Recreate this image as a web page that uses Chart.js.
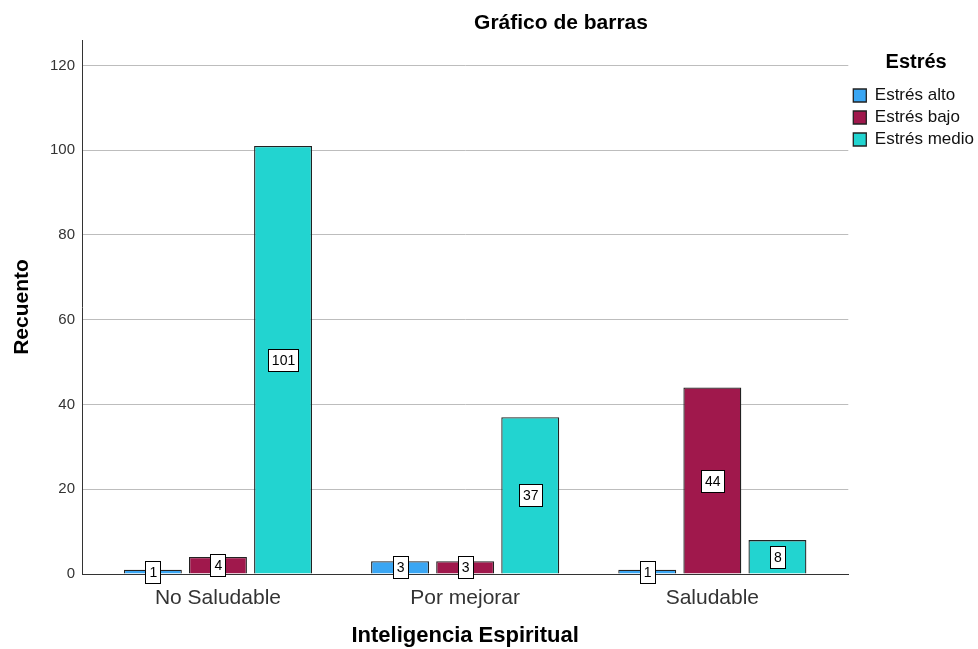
<!DOCTYPE html>
<html>
<head>
<meta charset="utf-8">
<script src="https://cdn.jsdelivr.net/npm/chart.js@4.4.0/dist/chart.umd.min.js"></script>
<style>
  body { margin: 0; background: #fff; }
</style>
</head>
<body>
<canvas id="grafico" width="978" height="649"></canvas>
<script>
const categorias = ['No Saludable', 'Por mejorar', 'Saludable'];
const estresAlto = [1, 3, 1];
const estresBajo = [4, 3, 44];
const estresMedio = [101, 37, 8];
const ticksY = [0, 20, 40, 60, 80, 100, 120];

const fuente = '"Liberation Sans", Arial, sans-serif';

// cajitas blancas con el recuento en medio de cada barra
const etiquetas = {
  id: 'etiquetas',
  afterDatasetsDraw(chart) {
    const ctx = chart.ctx;
    ctx.save();
    ctx.font = '14px ' + fuente;
    ctx.textAlign = 'center';
    ctx.textBaseline = 'middle';
    chart.data.datasets.forEach((ds, di) => {
      chart.getDatasetMeta(di).data.forEach((bar, i) => {
        const txt = String(ds.data[i].y);
        const w = Math.round(ctx.measureText(txt).width + 7);
        const h = 22;
        const x = Math.round(bar.x - w / 2);
        const y = Math.round((bar.y + bar.base) / 2 - h / 2);
        ctx.fillStyle = '#fff';
        ctx.fillRect(x, y, w, h);
        ctx.strokeStyle = '#000';
        ctx.lineWidth = 1;
        ctx.strokeRect(x + 0.5, y + 0.5, w, h);
        ctx.fillStyle = '#000';
        ctx.fillText(txt, bar.x + 0.5, y + h / 2 + 1);
      });
    });
    ctx.restore();
  }
};

const titulo = {
  id: 'titulo',
  afterDraw(chart) {
    const ctx = chart.ctx;
    ctx.save();
    ctx.font = 'bold 21px ' + fuente;
    ctx.fillStyle = '#000';
    ctx.textAlign = 'center';
    ctx.textBaseline = 'middle';
    ctx.fillText('Gráfico de barras', 561, 23);
    ctx.restore();
  }
};

const serie = valores => valores.map((v, i) => ({ x: i, y: v }));

new Chart(document.getElementById('grafico'), {
  type: 'bar',
  data: {
    datasets: [
      { label: 'Estrés alto', data: serie(estresAlto), backgroundColor: '#3aa6f3', borderColor: '#222', borderWidth: 1.3 },
      { label: 'Estrés bajo', data: serie(estresBajo), backgroundColor: '#a0184c', borderColor: '#222', borderWidth: 1.3 },
      { label: 'Estrés medio', data: serie(estresMedio), backgroundColor: '#22d4d0', borderColor: '#222', borderWidth: 1.3 }
    ]
  },
  options: {
    responsive: false,
    animation: false,
    categoryPercentage: 0.79,
    barPercentage: 0.89,
    layout: { padding: { top: 40, right: -6, bottom: 0, left: 0 } },
    plugins: {
      tooltip: { enabled: false },
      legend: {
        position: 'right',
        align: 'start',
        title: {
          display: true,
          text: 'Estrés',
          color: '#000',
          font: { family: fuente, size: 20, weight: 'bold' },
          padding: { top: 12, bottom: 6 }
        },
        labels: {
          color: '#111',
          font: { family: fuente, size: 17 },
          boxWidth: 13,
          boxHeight: 13,
          padding: 5
        }
      }
    },
    scales: {
      x: {
        type: 'linear',
        offset: false,
        min: -0.55,
        max: 2.55,
        afterBuildTicks: s => { s.ticks = categorias.map((c, i) => ({ value: i })); },
        afterFit: s => { s.height = 75; },
        grid: { display: false },
        border: { display: true, color: '#333', width: 1 },
        ticks: {
          callback: v => categorias[v],
          color: '#333',
          font: { family: fuente, size: 21 },
          padding: 4,
          maxRotation: 0,
          autoSkip: false
        },
        title: {
          display: true,
          text: 'Inteligencia Espiritual',
          color: '#000',
          font: { family: fuente, size: 22, weight: 'bold' },
          padding: { top: 0, bottom: 0 }
        }
      },
      y: {
        min: 0,
        max: 126,
        afterBuildTicks: s => { s.ticks = ticksY.map(v => ({ value: v })); },
        afterFit: s => { s.width = 82; },
        grid: { color: '#bdbdbd', drawTicks: false },
        border: { display: true, color: '#333', width: 1 },
        ticks: {
          color: '#333',
          font: { family: fuente, size: 15 },
          padding: 7
        },
        title: {
          display: true,
          text: 'Recuento',
          color: '#000',
          font: { family: fuente, size: 21, weight: 'bold' },
          padding: { top: 10, bottom: 0 }
        }
      }
    }
  },
  plugins: [etiquetas, titulo]
});
</script>
</body>
</html>
